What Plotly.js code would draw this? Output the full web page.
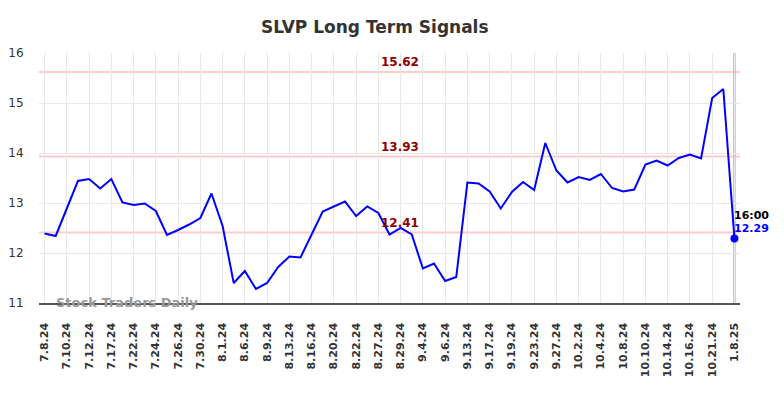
<!DOCTYPE html>
<html>
<head>
<meta charset="utf-8">
<script src="https://cdn.plot.ly/plotly-3.0.1.min.js"></script>
<style>html,body{margin:0;padding:0;background:#fff;}#chart{width:784px;height:398px;}</style>
</head>
<body>
<div id="chart"></div>
<script>
const dates = ["7.8.24","7.9.24","7.10.24","7.11.24","7.12.24","7.15.24","7.17.24","7.19.24","7.22.24","7.23.24",
  "7.24.24","7.25.24","7.26.24","7.29.24","7.30.24","7.31.24","8.1.24","8.5.24","8.6.24","8.8.24",
  "8.9.24","8.12.24","8.13.24","8.15.24","8.16.24","8.19.24","8.20.24","8.21.24","8.22.24","8.26.24",
  "8.27.24","8.28.24","8.29.24","9.3.24","9.4.24","9.5.24","9.6.24","9.12.24","9.13.24","9.16.24",
  "9.17.24","9.18.24","9.19.24","9.20.24","9.23.24","9.26.24","9.27.24","10.1.24","10.2.24","10.3.24",
  "10.4.24","10.7.24","10.8.24","10.9.24","10.10.24","10.11.24","10.14.24","10.15.24","10.16.24","10.18.24",
  "10.21.24","10.22.24","1.8.25"];
const prices = [12.39,12.34,12.89,13.44,13.48,13.29,13.48,13.01,12.96,12.99,
  12.84,12.36,12.46,12.57,12.70,13.19,12.54,11.40,11.64,11.28,
  11.40,11.72,11.93,11.91,12.37,12.83,12.93,13.03,12.74,12.93,
  12.80,12.37,12.50,12.37,11.69,11.79,11.44,11.52,13.41,13.39,
  13.23,12.89,13.22,13.42,13.26,14.20,13.65,13.41,13.52,13.46,
  13.58,13.30,13.23,13.27,13.77,13.85,13.75,13.90,13.97,13.89,
  15.10,15.28,12.29];
const tickLabels = ["7.8.24","7.10.24","7.12.24","7.17.24","7.22.24","7.24.24","7.26.24","7.30.24","8.1.24","8.6.24",
  "8.9.24","8.13.24","8.16.24","8.20.24","8.22.24","8.27.24","8.29.24","9.4.24","9.6.24","9.13.24",
  "9.17.24","9.19.24","9.23.24","9.27.24","10.2.24","10.4.24","10.8.24","10.10.24","10.14.24","10.16.24",
  "10.21.24","1.8.25"];
const signalLevels = [15.62, 13.93, 12.41];
const signalLabels = ["15.62", "13.93", "12.41"];
const lastTime = "16:00";
const lastLabel = "12.29";

const font = "DejaVu Sans, sans-serif";
const lastDate = dates[dates.length - 1];
const lastPrice = prices[prices.length - 1];

const shapes = signalLevels.map(v => ({
  type: "line", xref: "paper", x0: 0, x1: 1, yref: "y", y0: v, y1: v,
  line: {color: "#ffcccc", width: 2}, layer: "below"
}));
shapes.push({
  type: "line", xref: "x", x0: lastDate, x1: lastDate, yref: "paper", y0: 0, y1: 1,
  line: {color: "#999999", width: 2}, layer: "below"
});

const annotations = signalLevels.map((v, i) => ({
  xref: "paper", x: 0.515, yref: "y", y: v, yanchor: "bottom", yshift: 1,
  text: "<b>" + signalLabels[i] + "</b>", showarrow: false,
  font: {family: font, size: 12, color: "#8b0000"}
}));
annotations.push({
  xref: "x", x: lastDate, yref: "y", y: 12.76, xanchor: "left", yanchor: "middle", xshift: -2,
  text: "<b>" + lastTime + "</b>", showarrow: false,
  font: {family: font, size: 11, color: "#000000"}
});
annotations.push({
  xref: "x", x: lastDate, yref: "y", y: 12.50, xanchor: "left", yanchor: "middle", xshift: -2,
  text: "<b>" + lastLabel + "</b>", showarrow: false,
  font: {family: font, size: 11, color: "#0000ff"}
});
annotations.push({
  xref: "paper", x: 0.021, yref: "y", y: 11, xanchor: "left", yanchor: "middle", yshift: 1,
  text: "<b>Stock Traders Daily</b>", showarrow: false,
  font: {family: font, size: 13, color: "#999999"}
});

const traces = [
  {x: dates, y: prices, type: "scatter", mode: "lines",
   line: {color: "#0000ff", width: 2}, hoverinfo: "skip"},
  {x: [lastDate], y: [lastPrice], type: "scatter", mode: "markers",
   marker: {color: "#0000ff", size: 8}, hoverinfo: "skip"}
];

const layout = {
  width: 784, height: 398,
  margin: {l: 39, r: 44, t: 53, b: 95},
  paper_bgcolor: "#ffffff", plot_bgcolor: "#ffffff",
  showlegend: false,
  title: {text: "<b>SLVP Long Term Signals</b>", x: 0.479, xref: "paper", xanchor: "center",
          y: 1 - 27/398, yref: "container", yanchor: "middle",
          font: {family: font, size: 17, color: "#333333"}},
  xaxis: {type: "category", categoryorder: "array", categoryarray: dates,
          range: [-0.5, dates.length - 0.5],
          tickmode: "array", tickvals: tickLabels, ticktext: tickLabels,
          tickangle: -90, tickfont: {family: font, size: 11, color: "#333333", weight: "bold"},
          showgrid: true, gridcolor: "#e8e8e8", gridwidth: 1,
          showline: true, linecolor: "#555555", linewidth: 1.5,
          ticks: "outside", ticklen: 14, tickcolor: "rgba(0,0,0,0)",
          zeroline: false, fixedrange: true},
  yaxis: {range: [11, 16], tickvals: [11, 12, 13, 14, 15, 16],
          tickfont: {family: font, size: 12, color: "#333333"},
          showgrid: true, gridcolor: "#e8e8e8", gridwidth: 1,
          showline: false, zeroline: false,
          ticks: "outside", ticklen: 12, tickcolor: "rgba(0,0,0,0)", fixedrange: true},
  shapes: shapes,
  annotations: annotations
};

Plotly.newPlot("chart", traces, layout, {displayModeBar: false, staticPlot: true});
</script>
</body>
</html>
